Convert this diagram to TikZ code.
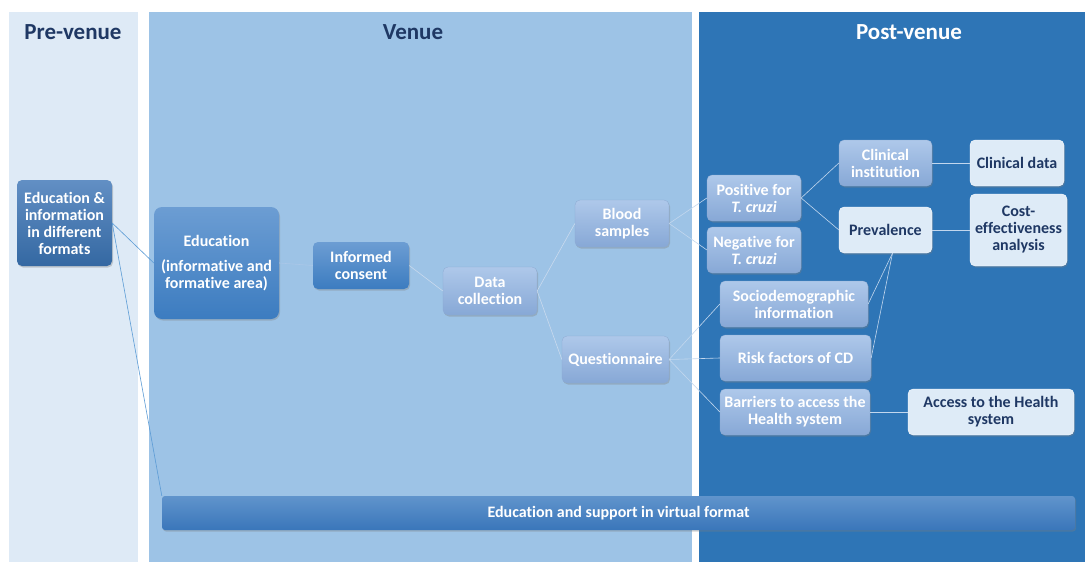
\documentclass[tikz,border=0pt]{standalone}
\usepackage{fontspec}
\setmainfont{Carlito}[Ligatures=NoCommon]
\usetikzlibrary{shadows}

\definecolor{prebg}{HTML}{DEEAF6}
\definecolor{venuebg}{HTML}{9DC3E6}
\definecolor{postbg}{HTML}{2E75B6}
\definecolor{navy}{HTML}{1F3864}
\definecolor{paleblue}{HTML}{DEEBF7}
\definecolor{linkvenue}{HTML}{C9DAEE}
\definecolor{linkpost}{HTML}{C2D7EE}
\definecolor{linkedu}{HTML}{5B9BD5}
\definecolor{linkfaint}{HTML}{AAC7E8}

\tikzset{
  basebox/.style={rounded corners=5pt, align=center, inner sep=1pt,
    font=\bfseries\fontsize{16}{17}\selectfont,
    drop shadow={shadow xshift=1pt, shadow yshift=-1.5pt, opacity=0.35}},
  softbox/.style={basebox, text=white, top color={rgb,255:red,174;green,200;blue,234},
    bottom color={rgb,255:red,135;green,168;blue,214}, draw={rgb,255:red,140;green,170;blue,210}, line width=0.3pt},
  edubox/.style={basebox, text=white, top color={rgb,255:red,108;green,157;blue,211},
    bottom color={rgb,255:red,60;green,124;blue,192}},
  infobox/.style={basebox, text=white, top color={rgb,255:red,98;green,143;blue,196},
    bottom color={rgb,255:red,52;green,104;blue,162}},
  lightbox/.style={basebox, text=navy, fill=paleblue, draw=white, line width=0.3pt},
  barbox/.style={basebox, text=white, rounded corners=3pt, top color={rgb,255:red,96;green,148;blue,204},
    bottom color={rgb,255:red,58;green,118;blue,186}},
  heading/.style={font=\bfseries\fontsize{23}{26}\selectfont},
  vlink/.style={draw=linkvenue, line width=0.6pt},
  plink/.style={draw=linkpost, line width=0.6pt},
  elink/.style={draw=linkedu, line width=0.6pt},
}

\begin{document}
\begin{tikzpicture}[x=1pt, y=-1pt]
  \useasboundingbox (0,0) rectangle (1085,562);
  \fill[white] (0,0) rectangle (1085,562);

  % stage columns
  \fill[prebg]   (9,12)   rectangle (138,562);
  \fill[venuebg] (149,12) rectangle (692,562);
  \fill[postbg]  (699,12) rectangle (1085,562);

  \node[heading, text=navy]  (tpre)   at (73,32)  {Pre-venue};
  \node[heading, text=navy]  (tvenue) at (413,32) {Venue};
  \node[heading, text=white] (tpost)  at (909,32) {Post-venue};

  % nodes
  \node[infobox, minimum width=95pt, minimum height=86pt] (info) at (64.5,223)
    {Education \&\\information\\in different\\formats};
  \node[edubox, rounded corners=8pt, minimum width=125pt, minimum height=112pt] (edu) at (216.5,263)
    {Education\\[8pt](informative and\\formative area)};
  \node[edubox, minimum width=96pt, minimum height=47pt] (consent) at (361,265.5)
    {Informed\\consent};
  \node[softbox, minimum width=94pt, minimum height=48pt] (datac) at (490,291)
    {Data\\collection};
  \node[softbox, minimum width=94pt, minimum height=47pt] (blood) at (622,223.5)
    {Blood\\samples};
  \node[softbox, minimum width=107pt, minimum height=47pt] (quest) at (615.5,359.5)
    {Questionnaire};
  \node[softbox, minimum width=94pt, minimum height=46pt] (pos) at (754,198)
    {Positive for\\\textit{T. cruzi}};
  \node[softbox, minimum width=94pt, minimum height=46pt] (neg) at (754,250)
    {Negative for\\\textit{T. cruzi}};
  \node[softbox, minimum width=93pt, minimum height=46pt] (clin) at (885.5,163)
    {Clinical\\institution};
  \node[lightbox, minimum width=93pt, minimum height=46pt] (prev) at (885.5,230)
    {Prevalence};
  \node[lightbox, minimum width=94pt, minimum height=46pt] (cdata) at (1017,163)
    {Clinical data};
  \node[lightbox, minimum width=97pt, minimum height=72pt] (cost) at (1018.5,230)
    {Cost-\\effectiveness\\analysis};
  \node[softbox, minimum width=148pt, minimum height=46pt] (socio) at (794,304)
    {Sociodemographic\\information};
  \node[softbox, minimum width=151pt, minimum height=46pt] (risk) at (795.5,358)
    {Risk factors of CD};
  \node[softbox, minimum width=150pt, minimum height=46pt] (barr) at (795,412)
    {Barriers to access the\\Health system};
  \node[lightbox, minimum width=166pt, minimum height=46pt] (access) at (991,412)
    {Access to the Health\\system};
  \node[barbox, minimum width=913pt, minimum height=34pt] (bar) at (618.5,513)
    {Education and support in virtual format};

  % connectors
  \draw[elink] (info.east) -- (edu.west);
  \draw[elink] (info.east) -- (bar.north west);
  \draw[draw=linkfaint, line width=0.6pt] (edu.east) -- (consent.west);
  \draw[vlink] (consent.east) -- (datac.west);
  \draw[vlink] (datac.east) -- (blood.west);
  \draw[vlink] (datac.east) -- (quest.west);
  \draw[plink] (blood.east) -- (pos.west);
  \draw[plink] (blood.east) -- (neg.west);
  \draw[plink] (quest.east) -- (socio.west);
  \draw[plink] (quest.east) -- (risk.west);
  \draw[plink] (quest.east) -- (barr.west);
  \draw[plink] (pos.east) -- (clin.west);
  \draw[plink] (pos.east) -- (prev.west);
  \draw[plink] (clin.east) -- (cdata.west);
  \draw[plink] (prev.east) -- (cost.west);
  \draw[plink] ([xshift=7pt]prev.south) -- (socio.east);
  \draw[plink] ([xshift=7pt]prev.south) -- (risk.east);
  \draw[plink] (barr.east) -- (access.west);
\end{tikzpicture}
\end{document}
